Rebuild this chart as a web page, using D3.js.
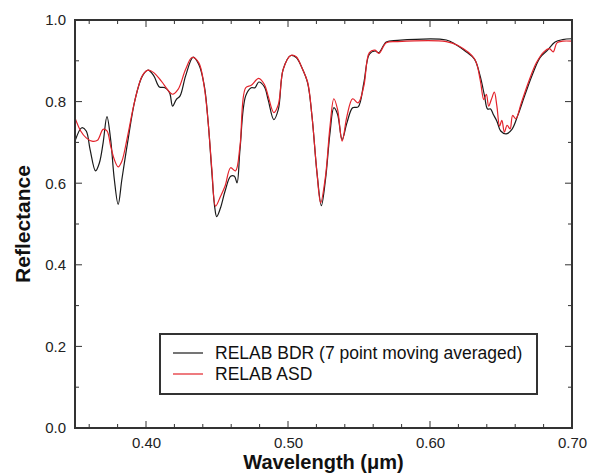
<!DOCTYPE html>
<html>
<head>
<meta charset="utf-8">
<script src="https://cdn.jsdelivr.net/npm/d3@7"></script>
<style>
  html, body { margin: 0; padding: 0; background: #fff; }
  svg { display: block; font-family: "Liberation Sans", Arial, sans-serif; }
</style>
</head>
<body>
<svg id="chart" width="589" height="475"></svg>
<script>
// ---- Data ----
const bdrWavelength = [0.3500,0.3548,0.3579,0.3606,0.3645,0.3672,0.3698,0.3725,0.3751,0.3777,0.3804,0.3830,0.3870,0.3923,0.3975,0.4015,0.4055,0.4094,0.4134,0.4166,0.4187,0.4213,0.4240,0.4279,0.4332,0.4372,0.4411,0.4438,0.4464,0.4483,0.4498,0.4525,0.4557,0.4596,0.4623,0.4641,0.4662,0.4702,0.4741,0.4768,0.4794,0.4834,0.4860,0.4900,0.4932,0.4966,0.5019,0.5058,0.5098,0.5138,0.5169,0.5204,0.5235,0.5264,0.5296,0.5323,0.5349,0.5381,0.5415,0.5455,0.5494,0.5534,0.5573,0.5613,0.5640,0.5692,0.5772,0.6115,0.6181,0.6247,0.6313,0.6353,0.6384,0.6405,0.6427,0.6445,0.6471,0.6498,0.6537,0.6577,0.6617,0.6670,0.6722,0.6775,0.6828,0.6881,0.6934,0.7000];
const bdrReflectance = [0.703,0.736,0.728,0.683,0.630,0.650,0.699,0.763,0.707,0.609,0.548,0.609,0.699,0.805,0.863,0.877,0.863,0.836,0.834,0.822,0.789,0.805,0.814,0.863,0.909,0.891,0.838,0.748,0.626,0.544,0.518,0.540,0.581,0.617,0.617,0.601,0.683,0.814,0.834,0.834,0.848,0.836,0.805,0.756,0.781,0.879,0.913,0.908,0.883,0.846,0.764,0.626,0.545,0.609,0.724,0.785,0.769,0.707,0.748,0.785,0.787,0.846,0.916,0.924,0.920,0.946,0.950,0.951,0.940,0.924,0.904,0.863,0.814,0.782,0.782,0.769,0.752,0.728,0.721,0.732,0.765,0.818,0.867,0.908,0.926,0.946,0.952,0.954];

const asdWavelength = [0.3500,0.3540,0.3579,0.3619,0.3658,0.3698,0.3725,0.3751,0.3777,0.3804,0.3830,0.3870,0.3923,0.3975,0.4015,0.4055,0.4108,0.4187,0.4226,0.4279,0.4324,0.4372,0.4411,0.4438,0.4464,0.4490,0.4525,0.4557,0.4596,0.4630,0.4662,0.4702,0.4741,0.4794,0.4834,0.4860,0.4900,0.4932,0.4966,0.5019,0.5058,0.5098,0.5138,0.5169,0.5204,0.5230,0.5264,0.5296,0.5323,0.5349,0.5381,0.5415,0.5455,0.5494,0.5534,0.5573,0.5613,0.5640,0.5692,0.5772,0.6115,0.6194,0.6313,0.6353,0.6379,0.6397,0.6413,0.6432,0.6453,0.6471,0.6490,0.6506,0.6524,0.6543,0.6564,0.6582,0.6604,0.6643,0.6696,0.6749,0.6802,0.6841,0.6868,0.6894,0.6934,0.7000];
const asdReflectance = [0.760,0.728,0.711,0.703,0.705,0.732,0.728,0.691,0.658,0.640,0.654,0.715,0.805,0.864,0.877,0.871,0.850,0.818,0.830,0.879,0.908,0.895,0.834,0.748,0.634,0.544,0.568,0.593,0.638,0.630,0.691,0.834,0.840,0.857,0.842,0.814,0.773,0.793,0.879,0.913,0.910,0.883,0.848,0.764,0.626,0.552,0.617,0.740,0.807,0.781,0.703,0.764,0.807,0.797,0.838,0.920,0.926,0.918,0.944,0.947,0.947,0.938,0.905,0.854,0.805,0.818,0.789,0.805,0.823,0.789,0.740,0.754,0.725,0.742,0.733,0.766,0.758,0.797,0.850,0.895,0.922,0.930,0.922,0.944,0.948,0.948];

const xTickValues = [0.40, 0.50, 0.60, 0.70];
const yTickValues = [0.0, 0.2, 0.4, 0.6, 0.8, 1.0];
const seriesNames = ["RELAB BDR (7 point moving averaged)", "RELAB ASD"];
const seriesColors = ["#1a1a1a", "#e3232b"];

// ---- Layout ----
const svg = d3.select("#chart");
const margin = { left: 75, right: 17, top: 20, bottom: 47 };
const W = 589, H = 475;
const x = d3.scaleLinear().domain([0.35, 0.70]).range([margin.left, W - margin.right]);
const y = d3.scaleLinear().domain([0, 1]).range([H - margin.bottom, margin.top]);
const axisColor = "#333";

svg.append("clipPath").attr("id", "clip").append("rect")
  .attr("x", x(0.35)).attr("y", y(1)).attr("width", x(0.70) - x(0.35)).attr("height", y(0) - y(1));

const xMinor = d3.range(0.36, 0.70, 0.02).map(v => +v.toFixed(2));
const yMinor = d3.range(0.1, 1.0, 0.1).map(v => +v.toFixed(1));
function isMajorX(v) { return xTickValues.some(t => Math.abs(t - v) < 1e-6); }
function isMajorY(v) { return yTickValues.some(t => Math.abs(t - v) < 1e-6); }

// inward ticks on all four sides
const gT = svg.append("g");
xMinor.forEach(v => {
  const len = isMajorX(v) ? 7 : 4;
  gT.append("line").attr("x1", x(v)).attr("x2", x(v)).attr("y1", y(0)).attr("y2", y(0) - len)
    .attr("stroke", axisColor).attr("stroke-width", 1);
  gT.append("line").attr("x1", x(v)).attr("x2", x(v)).attr("y1", y(1)).attr("y2", y(1) + len)
    .attr("stroke", axisColor).attr("stroke-width", 1);
});
yMinor.forEach(v => {
  const len = isMajorY(v) ? 7 : 4;
  gT.append("line").attr("x1", x(0.35)).attr("x2", x(0.35) + len).attr("y1", y(v)).attr("y2", y(v))
    .attr("stroke", axisColor).attr("stroke-width", 1);
  gT.append("line").attr("x1", x(0.70)).attr("x2", x(0.70) - len).attr("y1", y(v)).attr("y2", y(v))
    .attr("stroke", axisColor).attr("stroke-width", 1);
});

// tick labels via d3 axes
const xAxisG = svg.append("g").attr("transform", `translate(0,${y(0)})`)
  .call(d3.axisBottom(x).tickValues(xTickValues).tickSize(0).tickPadding(9).tickFormat(d3.format(".2f")));
xAxisG.select(".domain").remove();
xAxisG.selectAll("text").attr("font-size", 15).attr("fill", "#222")
  .attr("font-family", "'Liberation Sans', Arial, sans-serif");

const yAxisG = svg.append("g").attr("transform", `translate(${x(0.35)},0)`)
  .call(d3.axisLeft(y).tickValues(yTickValues).tickSize(0).tickPadding(9).tickFormat(d3.format(".1f")));
yAxisG.select(".domain").remove();
yAxisG.selectAll("text").attr("font-size", 15).attr("fill", "#222")
  .attr("font-family", "'Liberation Sans', Arial, sans-serif");

// lines
const line = d3.line().x(d => x(d[0])).y(d => y(d[1])).curve(d3.curveCatmullRom.alpha(0.5));
const bdr = bdrWavelength.map((w, i) => [w, bdrReflectance[i]]);
const asd = asdWavelength.map((w, i) => [w, asdReflectance[i]]);
const gl = svg.append("g").attr("clip-path", "url(#clip)");
gl.append("path").datum(bdr).attr("d", line).attr("fill", "none")
  .attr("stroke", seriesColors[0]).attr("stroke-width", 1.2);
gl.append("path").datum(asd).attr("d", line).attr("fill", "none")
  .attr("stroke", seriesColors[1]).attr("stroke-width", 1.2);

// frame
svg.append("rect").attr("x", x(0.35)).attr("y", y(1)).attr("width", x(0.70) - x(0.35)).attr("height", y(0) - y(1))
  .attr("fill", "none").attr("stroke", axisColor).attr("stroke-width", 2);

// legend
const lg = svg.append("g");
lg.append("rect").attr("x", 160).attr("y", 334).attr("width", 377).attr("height", 60)
  .attr("fill", "#fff").attr("stroke", axisColor).attr("stroke-width", 2);
seriesNames.forEach((name, i) => {
  const yy = 353 + i * 21;
  lg.append("line").attr("x1", 173).attr("x2", 203).attr("y1", yy).attr("y2", yy)
    .attr("stroke", seriesColors[i]).attr("stroke-width", 1.2);
  lg.append("text").attr("x", 215).attr("y", yy).attr("dy", "0.35em")
    .attr("font-size", 17.5).attr("fill", "#111").text(name);
});

// axis titles
svg.append("text").attr("x", (x(0.35) + x(0.70)) / 2).attr("y", 469)
  .attr("text-anchor", "middle").attr("font-size", 20).attr("font-weight", "bold").attr("fill", "#111")
  .text("Wavelength (\u03bcm)");
svg.append("text").attr("transform", `translate(30,${(y(0) + y(1)) / 2}) rotate(-90)`)
  .attr("text-anchor", "middle").attr("font-size", 21).attr("font-weight", "bold").attr("fill", "#111")
  .text("Reflectance");
</script>
</body>
</html>
